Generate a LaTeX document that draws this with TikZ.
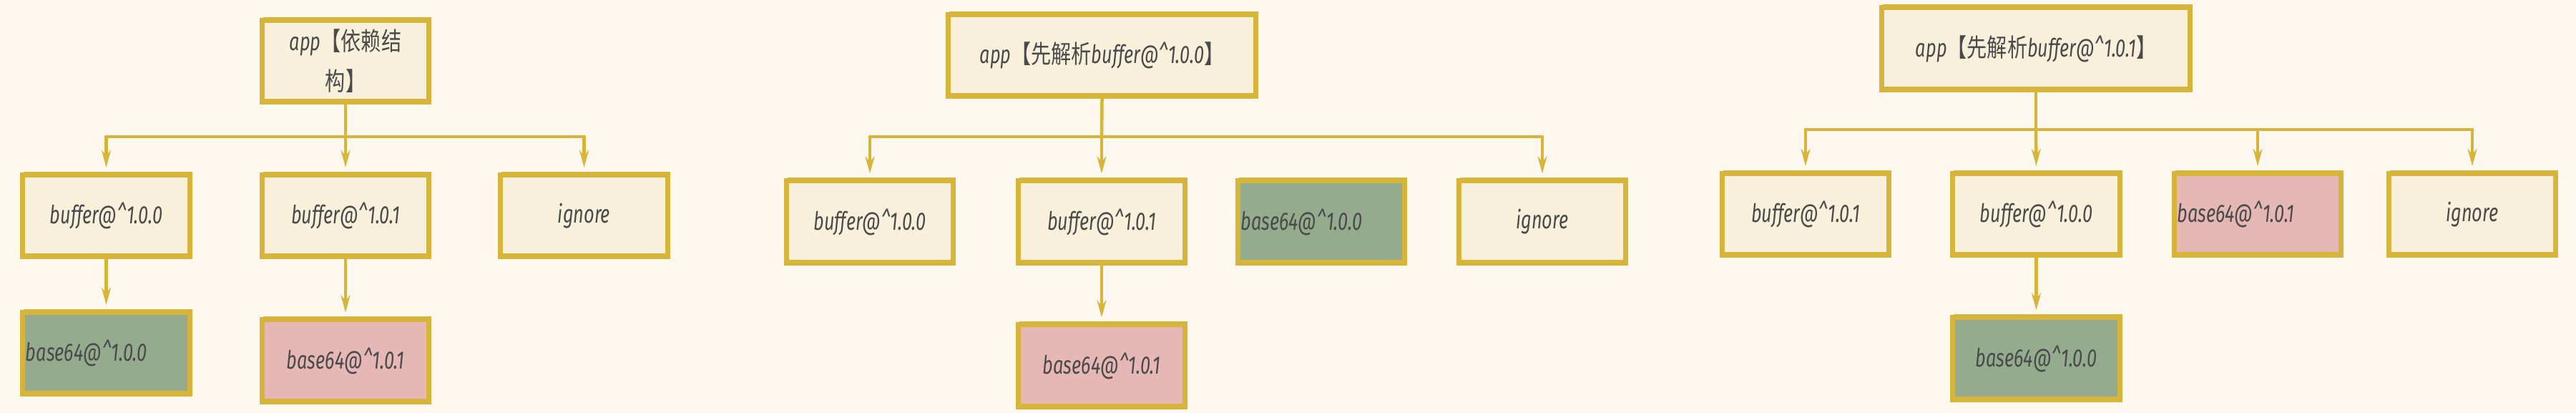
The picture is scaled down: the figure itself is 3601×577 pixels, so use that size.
\documentclass[tikz,border=0pt]{standalone}
\usepackage{fontspec}
\setmainfont{Fira Sans}[FakeStretch=0.72]
\newfontfamily\cjk{Noto Sans CJK SC}[FakeStretch=0.8]
\newcommand\zh[1]{{\cjk #1}}
\usetikzlibrary{arrows.meta}
\definecolor{bgc}{HTML}{FCF8F0}
\definecolor{boxfill}{HTML}{F8F0DA}
\definecolor{edge}{HTML}{D7B43A}
\definecolor{greenf}{HTML}{94AC8D}
\definecolor{pinkf}{HTML}{E5B7B5}
\definecolor{txt}{HTML}{4A4A4A}
\tikzset{
  box/.style={draw=edge, line width=0.07cm, fill=boxfill, minimum width=2.33cm,
    minimum height=1.14cm, inner sep=0pt, text=txt, align=center,
    font=\itshape\fontsize{10}{16}\selectfont,
    postaction={draw=edge, line width=0.02cm, fill=none,
      transform canvas={shift={(0.025cm,0.035cm)}}}},
  appbox/.style={box, minimum width=4.3cm},
  greenbox/.style={box, fill=greenf},
  pinkbox/.style={box, fill=pinkf},
  leftlabel/.style={text width=2.25cm, inner xsep=0.04cm, align=left},
  conn/.style={draw=edge, line width=0.045cm, line cap=round},
  arr/.style={conn, -{Stealth[length=0.24cm, width=0.13cm]}, shorten >=0.07cm}
}
\begin{document}
\begin{tikzpicture}[x=0.01cm, y=-0.01cm]
\fill[bgc] (0,0) rectangle (3601,577);
\useasboundingbox (0,0) rectangle (3601,577);

% ---------- panel 1 ----------
\node[box] (app1) at (483,85.5) {app\zh{【依赖结}\\\zh{构】}};
\node[box] (p1b100) at (148.5,301.5) {buffer@\textasciicircum 1.0.0};
\node[box] (p1b101) at (483,301.5) {buffer@\textasciicircum 1.0.1};
\node[box] (p1ign) at (816.5,301.5) {ignore};
\node[greenbox, leftlabel] (p1g) at (148.5,493.5) {base64@\textasciicircum 1.0.0};
\node[pinkbox] (p1p) at (483,504) {base64@\textasciicircum 1.0.1};
\coordinate (bus1) at (483,191);
\draw[conn] (app1.south) -- (bus1);
\draw[conn] (p1b100.north |- bus1) -- (p1ign.north |- bus1);
\draw[arr] (p1b100.north |- bus1) -- (p1b100.north);
\draw[arr] (bus1) -- (p1b101.north);
\draw[arr] (p1ign.north |- bus1) -- (p1ign.north);
\draw[arr] (p1b100.south) -- (p1g.north);
\draw[arr] (p1b101.south) -- (p1p.north);

% ---------- panel 2 ----------
\node[appbox] (app2) at (1540.5,77.5) {app\zh{【先解析}buffer@\textasciicircum 1.0.0\zh{】}};
\node[box] (p2b100) at (1216,310) {buffer@\textasciicircum 1.0.0};
\node[box] (p2b101) at (1540,310) {buffer@\textasciicircum 1.0.1};
\node[greenbox, leftlabel] (p2g) at (1847,310) {base64@\textasciicircum 1.0.0};
\node[box] (p2ign) at (2156,310) {ignore};
\node[pinkbox] (p2p) at (1540,511) {base64@\textasciicircum 1.0.1};
\coordinate (bus2) at (1540,191);
\draw[conn] (app2.south) -- (bus2);
\draw[conn] (p2b100.north |- bus2) -- (p2ign.north |- bus2);
\draw[arr] (p2b100.north |- bus2) -- (p2b100.north);
\draw[arr] (bus2) -- (p2b101.north);
\draw[arr] (p2ign.north |- bus2) -- (p2ign.north);
\draw[arr] (p2b101.south) -- (p2p.north);

% ---------- panel 3 ----------
\node[appbox] (app3) at (2846,68) {app\zh{【先解析}buffer@\textasciicircum 1.0.1\zh{】}};
\node[box] (p3b101) at (2524,299.5) {buffer@\textasciicircum 1.0.1};
\node[box] (p3b100) at (2846.5,299.5) {buffer@\textasciicircum 1.0.0};
\node[pinkbox, leftlabel] (p3p) at (3156,299.5) {base64@\textasciicircum 1.0.1};
\node[box] (p3ign) at (3456,299.5) {ignore};
\node[greenbox] (p3g) at (2846.5,501) {base64@\textasciicircum 1.0.0};
\coordinate (bus3) at (2846,181);
\draw[conn] (app3.south) -- (bus3);
\draw[conn] (p3b101.north |- bus3) -- (p3ign.north |- bus3);
\draw[arr] (p3b101.north |- bus3) -- (p3b101.north);
\draw[arr] (bus3) -- (p3b100.north);
\draw[arr] (p3p.north |- bus3) -- (p3p.north);
\draw[arr] (p3ign.north |- bus3) -- (p3ign.north);
\draw[arr] (p3b100.south) -- (p3g.north);
\end{tikzpicture}
\end{document}
